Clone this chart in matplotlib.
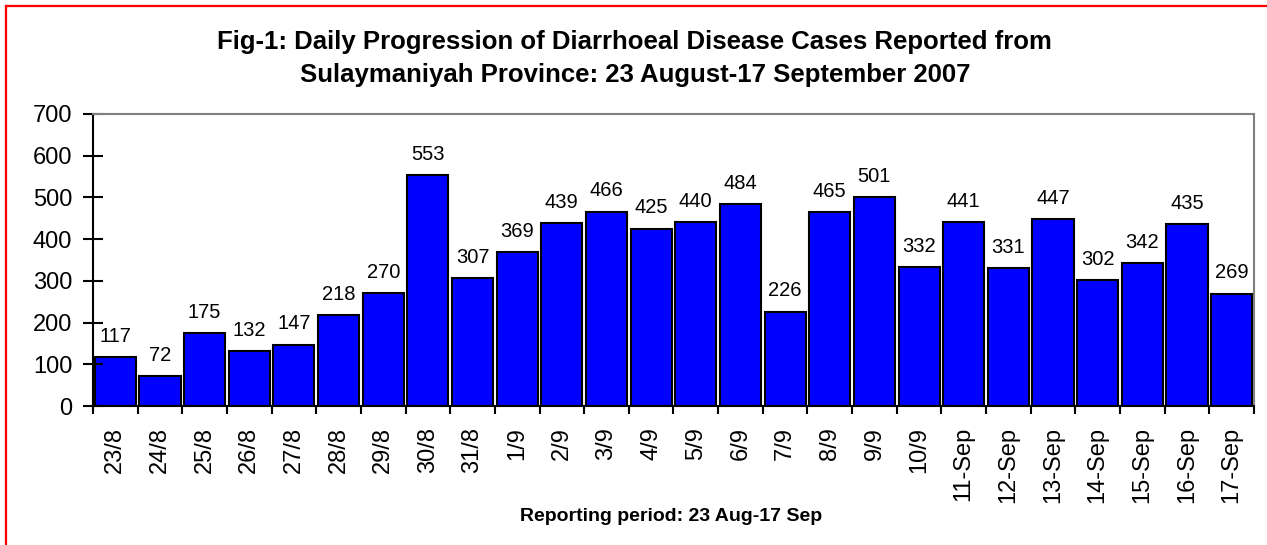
import matplotlib.pyplot as plt
import numpy as np
from matplotlib.lines import Line2D

plt.rcParams['font.family'] = ['Liberation Sans', 'DejaVu Sans']

days = ["23/8", "24/8", "25/8", "26/8", "27/8", "28/8", "29/8", "30/8", "31/8",
        "1/9", "2/9", "3/9", "4/9", "5/9", "6/9", "7/9", "8/9", "9/9", "10/9",
        "11-Sep", "12-Sep", "13-Sep", "14-Sep", "15-Sep", "16-Sep", "17-Sep"]
cases = [117, 72, 175, 132, 147, 218, 270, 553, 307, 369, 439, 466, 425, 440,
         484, 226, 465, 501, 332, 441, 331, 447, 302, 342, 435, 269]

fig = plt.figure(figsize=(12.67, 5.45), dpi=100)
ax = fig.add_axes([0.0734, 0.255, 0.9163, 0.536])

x = np.arange(len(days))
ax.bar(x, cases, width=0.92, color="#0000FF", edgecolor="black", linewidth=1.5)
for xi, v in zip(x, cases):
    ax.annotate(str(v), (xi, v), xytext=(0, 11), textcoords="offset points",
                ha="center", va="baseline", fontsize=14.5)

ax.set_xlim(-0.5, len(days) - 0.5)
ax.set_ylim(0, 700)
ax.set_yticks(range(0, 701, 100))
ax.tick_params(axis="y", labelsize=17, direction="inout", length=14, width=1.5, pad=8)

ax.set_xticks(x)
ax.set_xticklabels(days, rotation=90, fontsize=17)
ax.tick_params(axis="x", which="major", length=0, pad=15)
ax.set_xticks(np.arange(-0.5, len(days), 1), minor=True)
ax.tick_params(axis="x", which="minor", direction="out", length=6, width=1.5)

for side in ["left", "bottom"]:
    ax.spines[side].set_color("black")
    ax.spines[side].set_linewidth(1.5)
for side in ["top", "right"]:
    ax.spines[side].set_color("#808080")
    ax.spines[side].set_linewidth(1.5)

fig.text(0.501, 0.893, "Fig-1: Daily Progression of Diarrhoeal Disease Cases Reported from\n"
         "Sulaymaniyah Province: 23 August-17 September 2007",
         ha="center", va="center", fontsize=18.5, fontweight="bold", linespacing=1.45)
fig.text(0.530, 0.053, "Reporting period: 23 Aug-17 Sep", ha="center", va="center",
         fontsize=14, fontweight="bold")

# red frame (only top and left edges are visible in the source)
fig.lines.append(Line2D([6 / 1267, 1.0], [1 - 6 / 545, 1 - 6 / 545], transform=fig.transFigure,
                        color="red", linewidth=1.6))
fig.lines.append(Line2D([6 / 1267, 6 / 1267], [0.0, 1 - 6 / 545], transform=fig.transFigure,
                        color="red", linewidth=1.6))

fig.savefig("out.png", dpi=100)
